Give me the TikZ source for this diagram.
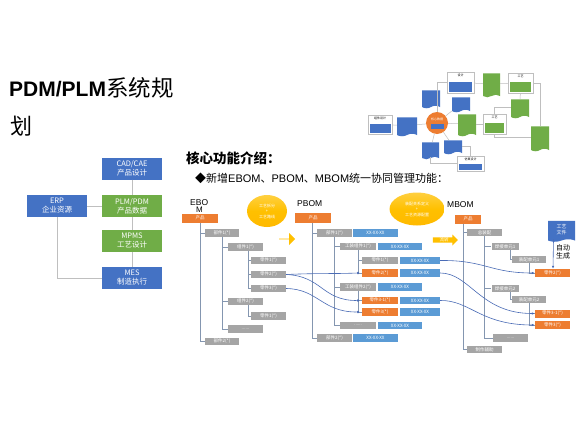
\documentclass[tikz,border=0pt]{standalone}
\usepackage{fontspec}
\setmainfont{Liberation Sans}
\newfontfamily\cjk{Noto Sans CJK SC}
\usetikzlibrary{shapes.geometric,shapes.symbols,shapes.arrows,arrows.meta}
\definecolor{bluec}{HTML}{4472C4}
\definecolor{greenc}{HTML}{70AD47}
\definecolor{orangec}{HTML}{ED7D31}
\definecolor{grayc}{HTML}{A5A5A5}
\definecolor{lblue}{HTML}{5B9BD5}
\definecolor{treec}{HTML}{8496B0}
\definecolor{linkc}{HTML}{4A6CB6}
\definecolor{goldc}{HTML}{FFC000}
\definecolor{linec}{HTML}{BFBFBF}
\tikzset{
  sys/.style={fill=#1, text=white, inner sep=0, minimum width=60pt, minimum height=22pt, align=center, font=\cjk\fontsize{7.5}{9}\selectfont},
  conn/.style={draw=linec, line width=1pt},
  gb/.style={fill=grayc, text=white, inner sep=0, minimum width=35pt, minimum height=7.5pt, font=\cjk\fontsize{4.5}{5}\selectfont},
  ob/.style={gb, fill=orangec},
  bb/.style={gb, fill=lblue},
  tree/.style={draw=treec, line width=0.6pt},
  link/.style={draw=linkc, line width=0.6pt},
  jdot/.style={circle, fill=linkc, inner sep=0, minimum size=2.6pt},
  bomlabel/.style={inner sep=0, anchor=base west, font=\fontsize{8.5}{9}\selectfont},
  goldell/.style={ellipse, top color=goldc!75!white, bottom color=goldc!90!orange, middle color=goldc, text=white, inner sep=0, align=center, font=\cjk\fontsize{4}{5.5}\selectfont},
  goldarrow/.style={single arrow, fill=goldc, inner sep=0, single arrow head extend=2.5pt, text=white, font=\cjk\fontsize{4.5}{5}\selectfont},
  tline/.style={draw=linec, line width=0.5pt},
  tbox/.style={draw=linec, fill=white, inner sep=0, line width=0.4pt},
  tin/.style={fill=#1, inner sep=0},
  doc/.style={tape, tape bend top=none, tape bend height=2.5pt, fill=#1, inner sep=0, text=white, font=\cjk\fontsize{2.5}{3}\selectfont},
  tiny/.style={inner sep=0, font=\cjk\fontsize{3}{3.5}\selectfont}
}
\begin{document}
\begin{tikzpicture}[x=1pt,y=-1pt]
\useasboundingbox[fill=white] (0,0) rectangle (579,434);

% ---------- title ----------
\node[anchor=base west, inner sep=0] (title1) at (9,96) {\fontsize{21}{24}\selectfont\bfseries PDM/PLM{\cjk\mdseries\fontsize{22.5}{24}\selectfont 系统规}};
\node[anchor=base west, inner sep=0] (title2) at (10,134) {\cjk\fontsize{22}{24}\selectfont 划};

% ---------- left system diagram ----------
\node[sys=bluec]  (cad) at (132,168.5) {CAD/CAE\\产品设计};
\node[sys=greenc] (plm) at (132,206) {PLM/PDM\\产品数据};
\node[sys=greenc] (mpm) at (132,241) {MPMS\\工艺设计};
\node[sys=bluec]  (mes) at (132,278) {MES\\制造执行};
\node[sys=bluec]  (erp) at (57,206) {ERP\\企业资源};
\draw[conn] (cad) -- (plm);
\draw[conn] (plm) -- (mpm);
\draw[conn] (mpm) -- (mes);
\draw[conn] (erp) -- (plm);
\draw[conn] (erp.south) |- (mes.west);

% ---------- headings ----------
\node[anchor=base west, inner sep=0] (h1) at (186,163) {\cjk\bfseries\fontsize{13.5}{15}\selectfont 核心功能介绍：};
\node[anchor=base west, inner sep=0] (h2) at (195,182) {\fontsize{11}{13}\selectfont{\cjk ◆新增}EBOM{\cjk 、}PBOM{\cjk 、}MBOM{\cjk 统一协同管理功能：}};

% ---------- top right small diagram ----------
\node[tbox, minimum width=24pt, minimum height=19pt] (tA) at (380,124.5) {};
\node[tin=bluec, minimum width=21pt, minimum height=9pt] (tAi) at (380,128.5) {};
\node[tiny] at (380,118.5) {组件设计};
\node[doc=bluec, minimum width=20pt, minimum height=19pt] (d1) at (407,125.5) {};
\node[circle, fill=orangec, minimum size=22pt, inner sep=0] (tcirc) at (437,123) {};
\node[tin=bluec, minimum width=13pt, minimum height=5pt] (tci) at (437,126) {};
\node[tiny, text=white] at (437,119) {核心数据};
\node[doc=bluec, minimum width=18pt, minimum height=18pt] (d2) at (431,98) {};
\node[doc=bluec, minimum width=18pt, minimum height=15pt] (d3) at (461,103.5) {};
\node[tbox, minimum width=27pt, minimum height=21pt] (tB) at (460.5,82.5) {};
\node[tin=bluec, minimum width=23pt, minimum height=10pt] (tBi) at (460.5,86.5) {};
\node[tiny] at (460.5,75.5) {设计};
\node[doc=greenc, minimum width=17pt, minimum height=24pt] (g1) at (491.5,84) {};
\node[tbox, minimum width=25pt, minimum height=20pt] (tC) at (520.5,83) {};
\node[tin=greenc, minimum width=21pt, minimum height=10pt] (tCi) at (520.5,87) {};
\node[tiny] at (520.5,76.5) {工艺};
\node[doc=greenc, minimum width=18pt, minimum height=19pt] (g2) at (520,107.5) {};
\node[doc=greenc, minimum width=18pt, minimum height=22pt] (g3) at (467,124) {};
\node[tbox, minimum width=23pt, minimum height=20pt] (tD) at (494.5,124) {};
\node[tin=greenc, minimum width=19pt, minimum height=10pt] (tDi) at (494.5,128) {};
\node[tiny] at (494.5,117.5) {工艺};
\node[doc=greenc, minimum width=18pt, minimum height=25pt] (g4) at (540,137.5) {};
\node[doc=bluec, minimum width=17pt, minimum height=17pt] (d4) at (430.5,149.5) {};
\node[doc=bluec, minimum width=18pt, minimum height=14pt] (d5) at (453,146) {};
\node[tbox, minimum width=27pt, minimum height=15pt] (tE) at (470.5,163.5) {};
\node[tin=bluec, minimum width=23pt, minimum height=6pt] (tEi) at (470.5,167) {};
\node[tiny] at (470.5,159) {仿真设计};
\draw[tline] (tA) -- (d1);
\draw[tline] (d1) -- (tcirc);
\draw[tline] (tcirc.north) |- (tB.west);
\draw[tline] (d3) -- (tcirc);
\draw[tline] (tB) -- (g1);
\draw[tline] (g1) -- (tC);
\draw[tline] (tC.east) -| (g4.north);
\draw[tline] (tcirc) -- (g3);
\draw[tline] (g3) -- (tD);
\draw[tline] (tD.north) |- (g2.west);
\draw[tline] (g2) -- (tC);
\draw[tline] (tD.south) |- (g4.west);
\draw[tline] (tcirc) -- (d4);
\draw[tline] (tcirc) -- (d5);
\draw[tline] (d5.east) -| (tE.north);
\draw[tline] (d4.south) |- (tE.west);

% ---------- ellipses and arrows ----------
\node[goldell, minimum width=40pt, minimum height=32pt] (ell1) at (267,211) {工艺拆分\\+\\工艺路线};
\node[goldell, minimum width=55pt, minimum height=33pt] (ell2) at (417,209) {装配关系定义\\+\\工艺资源配置};
\node[goldarrow, minimum width=12pt, minimum height=16pt] (arr1) at (287,239) {};
\node[goldarrow, minimum width=11pt, minimum height=25pt] (arr2) at (444,240) {流转};

% ---------- EBOM ----------
\node[bomlabel] (elab) at (190,205) {EBO};
\node[bomlabel, font=\fontsize{8}{9}\selectfont] (elab2) at (196,212.3) {M};
\node[ob, minimum width=36pt, minimum height=9.5pt] (eprod) at (200,218.3) {产品};
\node[gb, minimum width=34pt] (e1) at (222,233) {部件1(*)};
\node[gb] (e11) at (245.5,247) {组件1(*)};
\node[gb] (e111) at (268.5,260.5) {零件1(*)};
\node[gb] (e112) at (268.5,274.5) {零件2(*)};
\node[gb] (e113) at (268.5,288.5) {零件3(*)};
\node[gb] (e12) at (245.5,301.5) {组件2(*)};
\node[gb] (e121) at (268.5,316) {零件1(*)};
\node[gb] (e13) at (245.5,329) {......};
\node[gb, minimum width=34pt] (e2) at (222,341.5) {部件2(*)};
\draw[tree] (eprod.south) |- (e1.west);
\draw[tree] (eprod.south) |- (e2.west);
\draw[tree] (e1.south) |- (e11.west);
\draw[tree] (e1.south) |- (e12.west);
\draw[tree] (e1.south) |- (e13.west);
\draw[tree] ([xshift=2.5pt]e11.south) |- (e111.west);
\draw[tree] ([xshift=2.5pt]e11.south) |- (e112.west);
\draw[tree] ([xshift=2.5pt]e11.south) |- (e113.west);
\draw[tree] ([xshift=2.5pt]e12.south) |- (e121.west);

% ---------- PBOM ----------
\node[bomlabel] (plab) at (297,206) {PBOM};
\node[ob, minimum width=36pt, minimum height=10pt] (pprod) at (313,218) {产品};
\node[gb] (p1) at (334.5,233) {部件1(*)};
\node[bb, minimum width=45pt] (p1b) at (375.5,233) {XX-XX-XX};
\node[gb, minimum width=36pt] (p11) at (358,246.5) {工装组件1(*)};
\node[bb, minimum width=44pt] (p11b) at (400,246.5) {XX-XX-XX};
\node[gb, minimum width=36pt] (p111) at (380,260.5) {零件1(*)};
\node[bb, minimum width=40pt] (p111b) at (420,260.5) {XX-XX-XX};
\node[ob, minimum width=36pt] (p112) at (380,273) {零件2(*)};
\node[bb, minimum width=40pt] (p112b) at (420,273) {XX-XX-XX};
\node[gb, minimum width=36pt] (p12) at (358,287) {工装组件2(*)};
\node[bb, minimum width=44pt] (p12b) at (400,287) {XX-XX-XX};
\node[ob, minimum width=36pt] (p121) at (380,300.5) {零件3-1(*)};
\node[bb, minimum width=40pt] (p121b) at (420,300.5) {XX-XX-XX};
\node[ob, minimum width=36pt] (p122) at (380,312) {零件3(*)};
\node[bb, minimum width=40pt] (p122b) at (420,312) {XX-XX-XX};
\node[gb, minimum width=36pt] (p13) at (358,325.5) {......};
\node[bb, minimum width=44pt] (p13b) at (400,325.5) {XX-XX-XX};
\node[gb] (p2) at (334.5,338) {部件2(*)};
\node[bb, minimum width=45pt] (p2b) at (375.5,338) {XX-XX-XX};
\draw[tree] ([xshift=-1pt]pprod.south) |- (p1.west);
\draw[tree] ([xshift=-1pt]pprod.south) |- (p2.west);
\draw[tree] (p1.south) |- (p11.west);
\draw[tree] (p1.south) |- (p12.west);
\draw[tree] (p1.south) |- (p13.west);
\draw[tree] (p11.south) |- (p111.west);
\draw[tree] (p11.south) |- (p112.west);
\draw[tree] (p12.south) |- (p121.west);
\draw[tree] (p12.south) |- (p122.west);
\node[jdot] (j2) at (p11.south |- p112.west) {};
\node[jdot] (j31) at (p12.south |- p121.west) {};
\node[jdot] (j3) at (p12.south |- p122.west) {};

% ---------- MBOM ----------
\node[bomlabel] (mlab) at (447,207) {MBOM};
\node[ob, minimum width=26pt, minimum height=9pt] (mprod) at (468,219) {产品};
\node[gb] (m1) at (484.5,232.5) {总装配};
\node[gb, minimum width=27pt] (m11) at (505,246.5) {焊接单元1};
\node[gb, minimum width=34pt] (m111) at (529,259.5) {装配单元1};
\node[ob, minimum height=8pt] (m1111) at (552.5,273) {零件2(*)};
\node[gb, minimum width=27pt] (m12) at (505,288.5) {焊接单元2};
\node[gb, minimum width=34pt] (m121) at (529,299.5) {装配单元2};
\node[ob, minimum height=8pt] (m1211) at (552.5,313.5) {零件3-1(*)};
\node[ob, minimum height=8pt] (m1212) at (552.5,325) {零件3(*)};
\node[gb] (m13) at (510.5,338) {......};
\node[gb] (m2) at (484.5,349.5) {制作辅助};
\draw[tree] ([xshift=-5pt]mprod.south) |- (m1.west);
\draw[tree] ([xshift=-5pt]mprod.south) |- (m2.west);
\draw[tree] (m1.south) |- (m11.west);
\draw[tree] (m1.south) |- (m12.west);
\draw[tree] (m1.south) |- (m13.west);
\draw[tree] ([xshift=5pt]m11.south) |- (m111.west);
\draw[tree] (m111.south) |- (m1111.west);
\draw[tree] ([xshift=5pt]m12.south) |- (m121.west);
\draw[tree] (m121.south) |- (m1211.west);
\draw[tree] (m121.south) |- (m1212.west);

% generated document
\node[doc=bluec, minimum width=27pt, minimum height=21pt, font=\cjk\fontsize{5}{6}\selectfont, align=center] (mdoc) at (561.5,230) {工艺\\文件};
\node[inner sep=0, font=\cjk\fontsize{7}{8}\selectfont, align=center] (auto) at (563,252) {自动\\生成};
\draw[link, -{Latex[length=3pt,width=2.5pt]}] ([xshift=-8pt]mdoc.south) -- ([xshift=0.5pt]m1111.north);

% ---------- links EBOM -> PBOM ----------
\draw[link] (e112.east) .. controls (320,273) and (330,274) .. (j2);
\draw[link] (e112.east) .. controls (322,276) and (322,300.5) .. (j31);
\draw[link] (e113.east) .. controls (318,289) and (322,312) .. (j3);

% ---------- links PBOM -> MBOM ----------
\draw[link, -{Latex[length=3pt,width=2.5pt]}] (p111b.east) .. controls (485,260) and (490,273) .. (m1111.west);
\draw[link, -{Latex[length=3pt,width=2.5pt]}] (p112b.east) .. controls (470,273) and (480,313.5) .. (m1211.west);
\draw[link, -{Latex[length=3pt,width=2.5pt]}] (p121b.east) .. controls (470,300) and (480,325) .. (m1212.west);
\end{tikzpicture}
\end{document}
